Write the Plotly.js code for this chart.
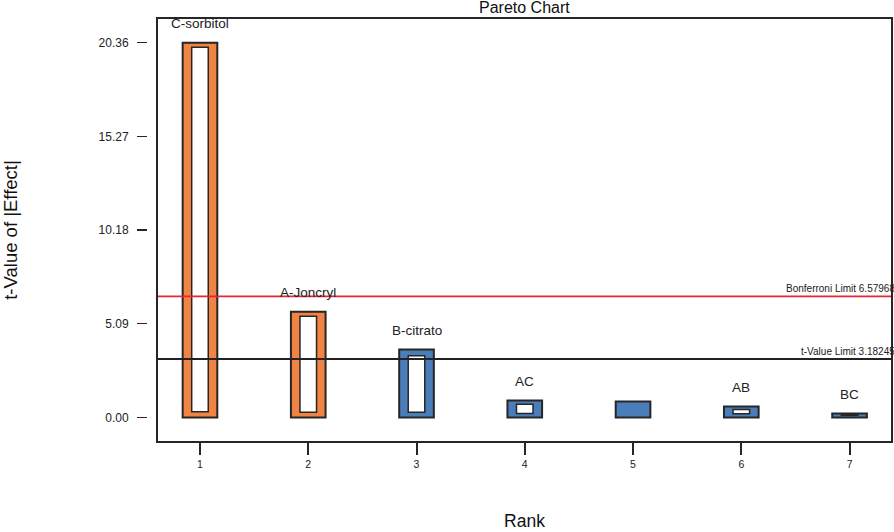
<!DOCTYPE html>
<html>
<head>
<meta charset="utf-8">
<script src="https://cdn.plot.ly/plotly-3.0.1.min.js"></script>
<style>html,body{margin:0;padding:0;background:#fff;}#chart{width:894px;height:532px;}</style>
</head>
<body>
<div id="chart"></div>
<script>
// ---- data ----
const ranks = [1, 2, 3, 4, 5, 6, 7];
const effectLabels = ["C-sorbitol", "A-Joncryl", "B-citrato", "AC", "", "AB", "BC"];
const tValues = [20.36, 5.75, 3.69, 0.92, 0.87, 0.60, 0.22];
const barColors = ["#F28443", "#F28443", "#4A7EBB", "#4A7EBB", "#4A7EBB", "#4A7EBB", "#4A7EBB"];
const innerBase = [0.31, 0.29, 0.29, 0.22, null, 0.20, 0.12];
const innerTop = [20.11, 5.50, 3.36, 0.72, null, 0.43, 0.16];
const yTickVals = [0, 5.09, 10.18, 15.27, 20.36];
const yTickText = ["0.00", "5.09", "10.18", "15.27", "20.36"];
const limitNames = ["Bonferroni Limit 6.57968", "t-Value Limit 3.18245"];
const limitValues = [6.57968, 3.18245];
const limitColors = ["#E3263C", "#222222"];

const innerHeights = innerTop.map((t, i) => (t === null ? null : t - innerBase[i]));
const FONT = "Liberation Sans, Arial, sans-serif";

const traces = [
  {
    type: "bar", x: ranks, y: tValues, width: 0.32,
    marker: { color: barColors, line: { color: "#262626", width: 2 } },
    hoverinfo: "skip", showlegend: false
  },
  {
    type: "bar", x: ranks, y: innerHeights, base: innerBase, width: 0.153,
    marker: { color: "#ffffff", line: { color: "#262626", width: 1.5 } },
    hoverinfo: "skip", showlegend: false
  }
];

const annotations = [];
ranks.forEach((r, i) => {
  if (effectLabels[i]) {
    annotations.push({
      x: r, y: tValues[i], xref: "x", yref: "y", text: effectLabels[i],
      showarrow: false, yanchor: "middle", yshift: 19,
      font: { family: FONT, size: 13.5, color: "#222" }
    });
  }
});
limitNames.forEach((n, i) => {
  annotations.push({
    x: 1, y: limitValues[i], xref: "x domain", yref: "y", text: n,
    showarrow: false, xanchor: "right", yanchor: "bottom", xshift: 5, yshift: 0,
    font: { family: FONT, size: 10, color: "#222" }
  });
});
annotations.push({
  x: 0.5, y: 1, xref: "x domain", yref: "paper", text: "Pareto Chart",
  showarrow: false, yanchor: "bottom", yshift: 0,
  font: { family: FONT, size: 16, color: "#111" }
});

const shapes = limitValues.map((v, i) => ({
  type: "line", xref: "x domain", yref: "y", x0: 0, x1: 1, y0: v, y1: v,
  line: { color: limitColors[i], width: i === 0 ? 1.6 : 2 }, layer: "above"
}));
shapes.push({
  type: "rect", xref: "x domain", yref: "y domain", x0: 0, x1: 1, y0: 0, y1: 1,
  line: { color: "#262626", width: 2 }, layer: "above"
});

const layout = {
  width: 894, height: 532,
  margin: { l: 147, r: 2, t: 18, b: 90, pad: 0 },
  paper_bgcolor: "#fff", plot_bgcolor: "#fff",
  barmode: "overlay",
  font: { family: FONT, color: "#222" },
  xaxis: {
    domain: [10 / 745, 1],
    range: [0.603, 7.392],
    tickvals: ranks, ticktext: ranks.map(String),
    ticks: "outside", ticklen: 12, tickwidth: 2, tickcolor: "#262626",
    showgrid: false, zeroline: false, showline: false,
    tickfont: { family: FONT, size: 10.5, color: "#222" },
    title: { text: "Rank", font: { family: FONT, size: 17.5, color: "#111" }, standoff: 46 },
    anchor: "y", fixedrange: true
  },
  yaxis: {
    anchor: "free", position: 0,
    range: [-1.33, 21.70],
    tickvals: yTickVals, ticktext: yTickText,
    ticks: "outside", ticklen: 10, tickwidth: 1.3, tickcolor: "#262626",
    ticklabelstandoff: 6,
    showgrid: false, zeroline: false, showline: false,
    tickfont: { family: FONT, size: 12, color: "#222" },
    title: { text: "t-Value of |Effect|", font: { family: FONT, size: 18.5, color: "#111" }, standoff: 76 },
    fixedrange: true
  },
  annotations: annotations,
  shapes: shapes,
  hovermode: false
};

Plotly.newPlot("chart", traces, layout, { displayModeBar: false, staticPlot: true });
</script>
</body>
</html>
